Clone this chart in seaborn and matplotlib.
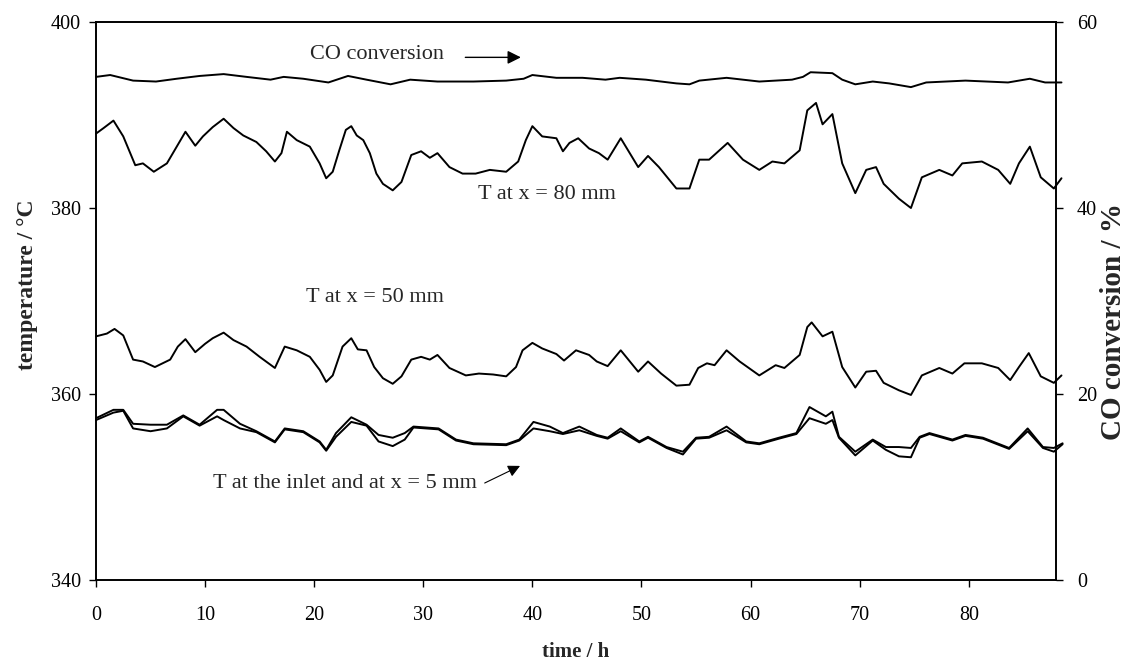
import matplotlib
matplotlib.use("Agg")
import matplotlib.pyplot as plt
import seaborn as sns
import pandas as pd

# CO conversion (%), right axis
t_co = [0.0, 1.3, 3.4, 5.5, 7.4, 9.5, 11.7, 13.8, 16.0, 17.2, 19.0, 21.3, 23.1, 24.8,
        27.0, 28.8, 31.3, 34.6, 37.6, 39.2, 40.0, 42.2, 44.6, 46.7, 48.0, 50.4, 53.2,
        54.4, 55.3, 57.8, 60.8, 63.8, 64.8, 65.5, 67.5, 68.4, 69.6, 71.2, 72.7, 74.7,
        76.1, 79.7, 83.6, 85.6, 87.0, 88.5]
co_conv = [54.1, 54.3, 53.7, 53.6, 53.9, 54.2, 54.4, 54.1, 53.8, 54.1, 53.9, 53.5, 54.2, 53.8,
           53.3, 53.8, 53.6, 53.6, 53.7, 53.9, 54.3, 54.0, 54.0, 53.8, 54.0, 53.8, 53.4,
           53.3, 53.7, 54.0, 53.6, 53.8, 54.1, 54.6, 54.5, 53.8, 53.3, 53.6, 53.4, 53.0,
           53.5, 53.7, 53.5, 53.9, 53.5, 53.5]

# temperature at x = 80 mm
t_80 = [0.0, 0.7, 1.6, 2.5, 3.6, 4.3, 5.3, 6.5, 7.4, 8.2, 9.1, 9.8, 10.7, 11.7, 12.6, 13.5,
        14.7, 15.6, 16.4, 17.0, 17.5, 18.4, 19.6, 20.5, 21.1, 21.7, 22.3, 22.9, 23.4, 23.9,
        24.5, 25.1, 25.7, 26.3, 27.2, 28.0, 28.9, 29.8, 30.6, 31.3, 32.4, 33.6, 34.8, 36.1,
        37.6, 38.7, 39.4, 40.0, 40.9, 42.2, 42.8, 43.4, 44.2, 45.2, 46.1, 46.9, 48.1, 49.7,
        50.6, 51.6, 53.2, 54.4, 55.3, 56.2, 57.9, 59.3, 60.8, 62.0, 63.1, 64.5, 65.2, 66.0,
        66.6, 67.5, 68.4, 69.6, 70.6, 71.5, 72.2, 73.6, 74.7, 75.7, 77.3, 78.5, 79.4, 81.2,
        82.7, 83.8, 84.6, 85.6, 86.6, 87.8, 88.5]
temp_80 = [388.0, 388.6, 389.4, 387.7, 384.6, 384.8, 383.9, 384.8, 386.6, 388.2, 386.7, 387.7,
           388.7, 389.6, 388.6, 387.8, 387.1, 386.1, 385.0, 385.9, 388.2, 387.3, 386.6, 384.8,
           383.2, 383.9, 386.2, 388.4, 388.8, 387.8, 387.3, 385.9, 383.7, 382.6, 381.9, 382.8,
           385.7, 386.1, 385.4, 385.9, 384.4, 383.7, 383.7, 384.1, 383.9, 385.0, 387.3, 388.8,
           387.7, 387.5, 386.1, 387.0, 387.5, 386.4, 385.9, 385.2, 387.5, 384.4, 385.6, 384.4,
           382.1, 382.1, 385.2, 385.2, 387.0, 385.2, 384.1, 385.0, 384.8, 386.2, 390.5, 391.3,
           389.0, 390.1, 384.8, 381.6, 384.1, 384.4, 382.6, 381.0, 380.0, 383.3, 384.1, 383.5,
           384.8, 385.0, 384.1, 382.6, 384.8, 386.6, 383.3, 382.1, 383.2]

# temperature at x = 50 mm
t_50 = [0.0, 1.0, 1.7, 2.5, 3.4, 4.3, 5.4, 6.8, 7.5, 8.2, 9.1, 10.0, 10.7, 11.7, 12.6, 13.8,
        15.0, 16.4, 17.3, 18.4, 19.6, 20.5, 21.1, 21.7, 22.6, 23.4, 24.0, 24.8, 25.5, 26.3,
        27.2, 28.0, 28.9, 29.8, 30.6, 31.3, 32.4, 33.9, 35.1, 36.4, 37.6, 38.5, 39.1, 40.0,
        40.9, 42.2, 42.9, 44.0, 45.2, 45.9, 46.9, 48.1, 49.7, 50.6, 51.8, 53.2, 54.4, 55.2,
        56.0, 56.7, 57.8, 59.0, 60.8, 62.3, 63.1, 64.5, 65.2, 65.6, 66.6, 67.5, 68.4, 69.6,
        70.6, 71.5, 72.2, 73.6, 74.7, 75.7, 77.3, 78.5, 79.6, 81.2, 82.7, 83.8, 84.6, 85.5,
        86.6, 87.8, 88.5]
temp_50 = [366.2, 366.5, 367.0, 366.3, 363.7, 363.5, 362.9, 363.7, 365.1, 365.9, 364.5, 365.4,
           366.0, 366.6, 365.8, 365.1, 364.0, 362.8, 365.1, 364.7, 364.0, 362.6, 361.3, 362.0,
           365.1, 366.0, 364.8, 364.7, 362.9, 361.7, 361.1, 361.9, 363.7, 364.0, 363.7, 364.2,
           362.8, 362.0, 362.2, 362.1, 361.9, 362.9, 364.7, 365.5, 364.9, 364.3, 363.6, 364.7,
           364.2, 363.5, 363.0, 364.7, 362.4, 363.5, 362.2, 360.9, 361.0, 362.8, 363.3, 363.1,
           364.7, 363.5, 362.0, 363.1, 362.8, 364.2, 367.2, 367.7, 366.2, 366.7, 362.9, 360.7,
           362.4, 362.5, 361.2, 360.4, 359.9, 362.0, 362.8, 362.2, 363.3, 363.3, 362.8, 361.5,
           362.9, 364.4, 361.9, 361.2, 362.0]

# temperature at the inlet and at x = 5 mm
t_in = [0.0, 1.6, 2.5, 3.4, 5.0, 6.5, 8.0, 9.5, 11.1, 11.7, 13.2, 14.7, 16.4, 17.3, 19.0,
        20.5, 21.1, 22.0, 23.4, 24.8, 25.9, 27.2, 28.3, 29.1, 31.4, 33.0, 34.6, 37.6, 38.8,
        40.1, 41.6, 42.8, 44.3, 45.9, 46.9, 48.1, 49.8, 50.6, 52.3, 53.8, 55.0, 56.2, 57.8,
        59.6, 60.8, 62.6, 64.2, 65.4, 66.9, 67.5, 68.1, 69.6, 71.2, 72.4, 73.6, 74.7, 75.5,
        76.4, 78.5, 79.7, 81.3, 83.7, 85.4, 86.8, 87.8, 88.6]
temp_5mm = [357.4, 358.3, 358.3, 356.8, 356.7, 356.7, 357.7, 356.7, 358.3, 358.3, 356.8, 356.0,
            354.9, 356.3, 356.0, 354.9, 354.0, 355.8, 357.5, 356.7, 355.6, 355.3, 355.8, 356.5,
            356.3, 355.1, 354.7, 354.6, 355.1, 357.0, 356.5, 355.8, 356.5, 355.6, 355.3, 356.3,
            354.9, 355.4, 354.3, 353.8, 355.3, 355.4, 356.5, 354.9, 354.7, 355.3, 355.8, 358.6,
            357.6, 358.1, 355.4, 353.8, 355.1, 354.3, 354.3, 354.2, 355.4, 355.8, 355.1, 355.6,
            355.3, 354.2, 356.3, 354.3, 354.2, 354.7]
temp_inlet = [357.2, 358.0, 358.2, 356.3, 356.0, 356.3, 357.6, 356.6, 357.6, 357.2, 356.3, 355.9,
              354.8, 356.2, 355.9, 354.8, 353.9, 355.4, 357.0, 356.6, 354.9, 354.4, 355.1, 356.4,
              356.2, 355.0, 354.6, 354.5, 355.0, 356.3, 356.0, 355.7, 356.1, 355.5, 355.2, 356.0,
              354.8, 355.3, 354.2, 353.5, 355.2, 355.3, 356.1, 354.8, 354.6, 355.2, 355.7, 357.4,
              356.8, 357.2, 355.3, 353.4, 355.0, 354.0, 353.3, 353.2, 355.3, 355.7, 355.0, 355.5,
              355.2, 354.1, 356.0, 354.2, 353.8, 354.6]

sns.set_style("ticks")
plt.rcParams["font.family"] = ["Liberation Serif", "DejaVu Serif"]

fig = plt.figure(figsize=(11.28, 6.61), dpi=100)
ax = fig.add_axes([0.0851, 0.1225, 0.8511, 0.8442])
ax2 = ax.twinx()

line_kw = dict(color="black", linewidth=1.4, clip_on=False)

df80 = pd.DataFrame({"time": t_80, "T": temp_80})
df50 = pd.DataFrame({"time": t_50, "T": temp_50})
dfin = pd.DataFrame({"time": t_in, "inlet": temp_inlet, "x5": temp_5mm})
dfco = pd.DataFrame({"time": t_co, "CO": co_conv})

sns.lineplot(data=df80, x="time", y="T", ax=ax, **line_kw)
sns.lineplot(data=df50, x="time", y="T", ax=ax, **line_kw)
sns.lineplot(data=dfin, x="time", y="inlet", ax=ax, **line_kw)
sns.lineplot(data=dfin, x="time", y="x5", ax=ax, **line_kw)
sns.lineplot(data=dfco, x="time", y="CO", ax=ax2, **line_kw)

ax.set_xlim(0, 88)
ax.set_ylim(340, 400)
ax2.set_ylim(0, 60)
ax.set_xticks(range(0, 90, 10))
ax.set_yticks([340, 360, 380, 400])
ax2.set_yticks([0, 20, 40, 60])

for a in (ax, ax2):
    for s in a.spines.values():
        s.set_color("black")
        s.set_linewidth(1.2)
ax.tick_params(axis="x", direction="out", length=5, width=1, labelsize=14.5, pad=14, colors="black")
ax.tick_params(axis="y", direction="out", length=5, width=1, labelsize=14.5, pad=6, colors="black")
ax2.tick_params(axis="y", direction="out", length=5, width=1, labelsize=14.5, pad=10, colors="black")

ax.set_xlabel("time / h", fontsize=15, fontweight="bold", labelpad=12)
ax.set_ylabel("temperature / °C", fontsize=17, fontweight="bold")
ax.yaxis.set_label_coords(-0.06, 0.53)
ax2.set_ylabel("CO conversion / %", fontsize=21, fontweight="bold", labelpad=2)
ax2.yaxis.label.set_y(0.463)

ax.text(25.8, 396.5, "CO conversion", fontsize=16, ha="center", va="center")
ax.annotate("", xy=(39.2, 396.2), xytext=(33.6, 396.2),
            arrowprops=dict(arrowstyle="-|>", color="black", lw=1, mutation_scale=20))
ax.text(41.3, 381.4, "T at x = 80 mm", fontsize=16, ha="center", va="center")
ax.text(25.6, 370.4, "T at x = 50 mm", fontsize=16, ha="center", va="center")
ax.text(22.8, 350.4, "T at the inlet and at x = 5 mm", fontsize=16, ha="center", va="center")
ax.annotate("", xy=(39.1, 352.4), xytext=(35.4, 350.3),
            arrowprops=dict(arrowstyle="-|>", color="black", lw=0.8, mutation_scale=18))

fig.savefig("out.png", dpi=100)
